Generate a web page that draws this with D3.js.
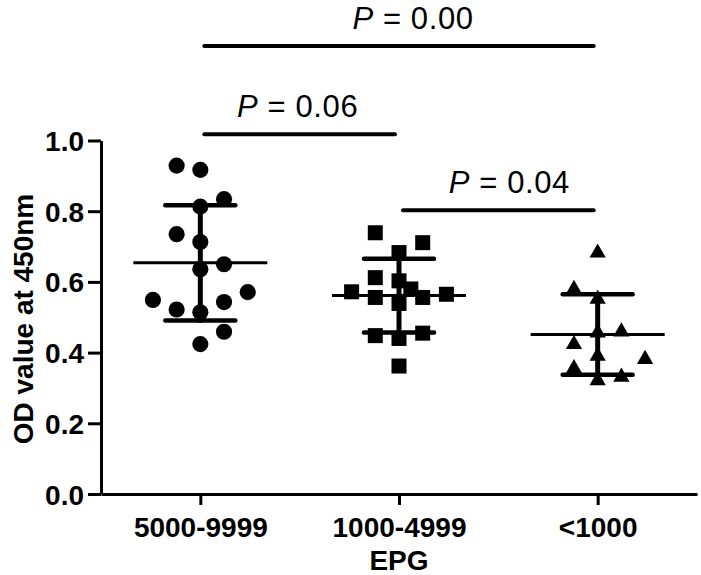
<!DOCTYPE html>
<html><head><meta charset="utf-8">
<script src="https://cdn.jsdelivr.net/npm/d3@7"></script>
<style>body{margin:0;background:#fff} svg{display:block}</style>
</head><body><svg id="chart" width="701" height="575"></svg>
<script>
// ---- data ----
const categories = ["5000-9999", "1000-4999", "<1000"];
const epgHigh = [0.929, 0.917, 0.834, 0.813, 0.735, 0.713, 0.650, 0.636, 0.571, 0.549, 0.543, 0.522, 0.514, 0.459, 0.424];
const epgMid  = [0.739, 0.711, 0.683, 0.612, 0.603, 0.580, 0.572, 0.565, 0.556, 0.556, 0.539, 0.455, 0.448, 0.440, 0.362];
const epgLow  = [0.685, 0.582, 0.554, 0.462, 0.459, 0.426, 0.393, 0.384, 0.358, 0.334, 0.324];
const yTicks = [0, 0.2, 0.4, 0.6, 0.8, 1.0];
const compFrom = [0, 0, 1];
const compTo   = [2, 1, 2];
const pValues  = ["0.00", "0.06", "0.04"];
const pLevels  = [1.267, 1.018, 0.803];
const yTitle = "OD value at 450nm";
const xTitle = "EPG";

const groups = [epgHigh, epgMid, epgLow];
const symbols = [d3.symbolCircle, d3.symbolSquare, d3.symbolTriangle];
const symbolSizes = [205, 225, 115];

const svg = d3.select("#chart");
const FONT = "'Liberation Sans', Arial, Helvetica, sans-serif";

const x = d3.scalePoint().domain(categories).range([101, 697]).padding(0.5);
const y = d3.scaleLinear().domain([0, 1]).range([494, 140.5]);

// ---- axes ----
const yAxis = d3.axisLeft(y).tickValues(yTicks).tickFormat(d3.format(".1f"))
  .tickSize(13).tickSizeOuter(0).tickPadding(4);
const gy = svg.append("g").attr("transform", "translate(101,0)").call(yAxis);
const xAxis = d3.axisBottom(x).tickSize(11).tickSizeOuter(0).tickPadding(10);
const gx = svg.append("g").attr("transform", "translate(0,494)").call(xAxis);
[gx, gy].forEach(g => {
  g.selectAll("path.domain").attr("stroke", "#000").attr("stroke-width", 3);
  g.selectAll(".tick line").attr("stroke", "#000").attr("stroke-width", 3);
  g.selectAll("text").attr("fill", "#000").attr("font-family", FONT)
    .attr("font-weight", "bold").attr("font-size", 28);
});
gy.selectAll("text").attr("dy", "0.36em");
gx.selectAll("text").attr("dy", "0.78em");

svg.append("text").attr("transform", "translate(33,319) rotate(-90)")
  .attr("text-anchor", "middle").attr("font-family", FONT).attr("font-weight", "bold")
  .attr("font-size", 28).text(yTitle);
svg.append("text").attr("x", 399).attr("y", 570)
  .attr("text-anchor", "middle").attr("font-family", FONT).attr("font-weight", "bold")
  .attr("font-size", 28).text(xTitle);

// ---- layout of the scatter points (column dot plot) ----
function swarm(values, cx) {
  const step = 23.7, T = 22;
  const order = values.map((v, i) => i).sort((a, b) => values[a] - values[b]);
  const placed = [];
  let clusterSide = -1, pref = 1;
  const out = new Array(values.length);
  order.forEach(i => {
    const py = y(values[i]);
    const clear = s => {
      const m = d3.min(placed.filter(p => p.slot === s), p => Math.abs(p.py - py));
      return m === undefined ? Infinity : m;
    };
    const dist = s => {
      const m = d3.min(placed, p => Math.hypot((p.slot - s) * step, p.py - py));
      return m === undefined ? Infinity : m;
    };
    let slot = null;
    if (clear(0) >= T) {           // a new row cluster starts here
      slot = 0;
      clusterSide = -clusterSide;
      pref = clusterSide;
    } else {
      for (let k = 1; k <= 2 && slot === null; k++) {
        for (const s of [pref * k, -pref * k]) { if (clear(s) >= T) { slot = s; break; } }
      }
      if (slot === null) {          // crowded: least crowded position incl. a half step
        let best = -1;
        [0, 0.5 * pref, -0.5 * pref, pref, -pref, 2 * pref, -2 * pref]
          .forEach(s => { const c = dist(s); if (c > best + 0.01) { best = c; slot = s; } });
      }
      if (slot !== 0) pref = -Math.sign(slot);
    }
    placed.push({ slot, py });
    out[i] = { v: values[i], x: cx + slot * step, y: py };
  });
  return out;
}

// ---- mean and SD bars ----
groups.forEach((vals, gi) => {
  const cx = x(categories[gi]);
  const m = d3.mean(vals), sd = d3.deviation(vals);
  const g = svg.append("g").attr("stroke", "#000").attr("stroke-linecap", "round");
  g.append("line").attr("x1", cx).attr("x2", cx).attr("y1", y(m + sd)).attr("y2", y(m - sd)).attr("stroke-width", 5);
  g.append("line").attr("x1", cx - 35).attr("x2", cx + 35).attr("y1", y(m + sd)).attr("y2", y(m + sd)).attr("stroke-width", 4.5);
  g.append("line").attr("x1", cx - 35).attr("x2", cx + 35).attr("y1", y(m - sd)).attr("y2", y(m - sd)).attr("stroke-width", 4.5);
  g.append("line").attr("x1", cx - 67).attr("x2", cx + 67).attr("y1", y(m)).attr("y2", y(m)).attr("stroke-width", 3).attr("stroke-linecap", "butt");
});

// ---- points ----
groups.forEach((vals, gi) => {
  const pts = swarm(vals, x(categories[gi]));
  const sym = d3.symbol().type(symbols[gi]).size(symbolSizes[gi]);
  svg.append("g").selectAll("path").data(pts).join("path")
    .attr("d", sym).attr("fill", "#000")
    .attr("transform", d => `translate(${d.x},${d.y + (gi === 2 ? 1 : 0)})`);
});

// ---- significance brackets ----
const labelDx = [14, -2, 11];
pValues.forEach((p, i) => {
  const x1 = x(categories[compFrom[i]]) + 4, x2 = x(categories[compTo[i]]) - 4;
  const ly = y(pLevels[i]);
  svg.append("line").attr("x1", x1).attr("x2", x2).attr("y1", ly).attr("y2", ly)
    .attr("stroke", "#000").attr("stroke-width", 4).attr("stroke-linecap", "round");
  const t = svg.append("text").attr("x", (x1 + x2) / 2 + labelDx[i]).attr("y", ly - 17)
    .attr("text-anchor", "middle").attr("font-family", FONT).attr("font-size", 31)
    .attr("letter-spacing", 0.6).attr("fill", "#000");
  t.append("tspan").attr("font-style", "italic").text("P");
  t.append("tspan").text(" = " + p);
});
</script></body></html>
